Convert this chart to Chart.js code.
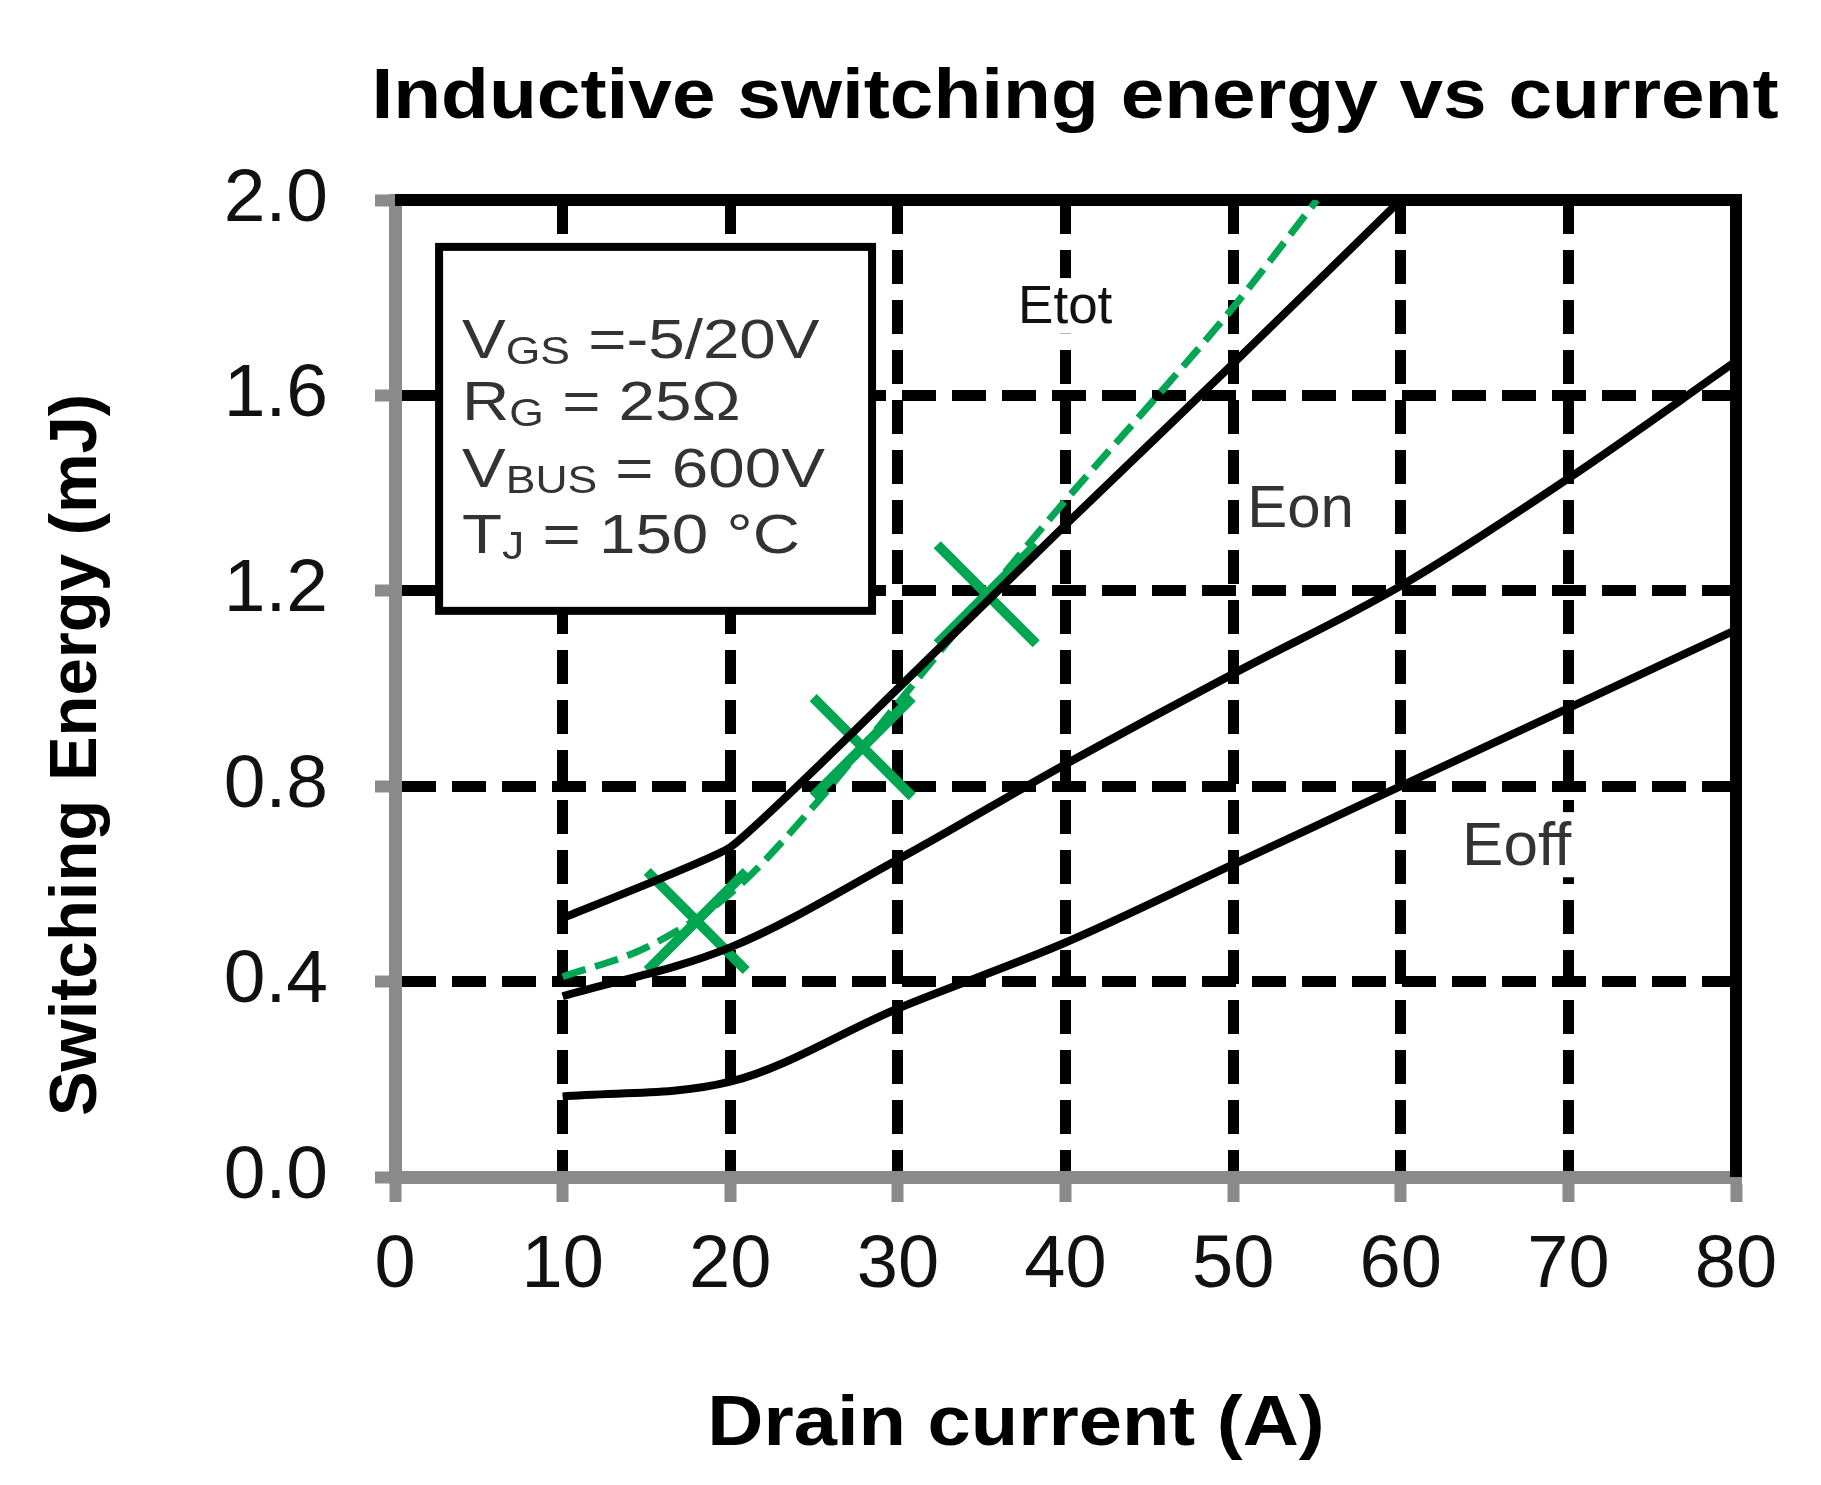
<!DOCTYPE html>
<html>
<head>
<meta charset="utf-8">
<title>Inductive switching energy vs current</title>
<script src="https://cdn.jsdelivr.net/npm/chart.js@4.4.1/dist/chart.umd.min.js"></script>
<style>
  html, body { margin: 0; padding: 0; background: #fff; }
  canvas { display: block; }
</style>
</head>
<body>
<canvas id="energyChart" width="1821" height="1485"></canvas>
<script>
// Values (drain current in A, energy in mJ)
const drainCurrent = [10, 20, 30, 40, 50, 60, 70, 80];
const eon  = [0.37, 0.47, 0.65, 0.845, 1.03, 1.21, 1.43, 1.67];
const eoff = [0.165, 0.195, 0.345, 0.48, 0.64, 0.80, 0.96, 1.12];
const etotCurrent = [10, 20, 30, 40, 50, 60];
const etot = [0.53, 0.675, 1.0, 1.335, 1.665, 2.0];
const fitCurrent = [10, 15, 20, 25, 30, 35, 40, 45, 50, 55];
const fitEnergy  = [0.41, 0.47, 0.58, 0.76, 0.97, 1.18, 1.385, 1.58, 1.78, 2.0];
const markerCurrent = [18.0, 27.9, 35.3];
const markerEnergy  = [0.524, 0.88, 1.193];

const xTicks = [0, 10, 20, 30, 40, 50, 60, 70, 80];
const yTicks = [0.0, 0.4, 0.8, 1.2, 1.6, 2.0];

// test conditions: [main, subscript, rest]
const conditions = [
    ["V", "GS", " =-5/20V"],
    ["R", "G", " = 25\u03A9"],
    ["V", "BUS", " = 600V"],
    ["T", "J", " = 150 \u00B0C"]
];

const FONT = '"Liberation Sans", Arial, sans-serif';
const GREEN = '#00a651';
const AXIS_GREY = '#8a8a8a';

const toPoints = (xs, ys) => xs.map((x, i) => ({ x: x, y: ys[i] }));

// the original text is a bit wider than Arial, so stretch it horizontally
function wideText(ctx, text, x, y, sx, align) {
    ctx.save();
    ctx.translate(x, y);
    ctx.scale(sx, 1);
    ctx.textAlign = align || 'left';
    ctx.fillText(text, 0, 0);
    ctx.restore();
    return ctx.measureText(text).width * sx;
}

// curve label with a white patch behind it (hides the grid line)
function curveLabel(ctx, text, px, py, size, color) {
    ctx.font = `${size}px ${FONT}`;
    const w = ctx.measureText(text).width;
    ctx.fillStyle = '#fff';
    ctx.fillRect(px - 6, py - size * 0.85, w + 12, size * 1.05);
    ctx.fillStyle = color;
    ctx.fillText(text, px, py);
}

const framePlugin = {
    id: 'frame',
    beforeDatasetsDraw(chart) {
        const { ctx, scales: { x, y } } = chart;
        ctx.save();

        // black frame on top and right
        ctx.strokeStyle = '#000';
        ctx.lineWidth = 12;
        ctx.beginPath();
        ctx.moveTo(x.getPixelForValue(0), y.getPixelForValue(2.0));
        ctx.lineTo(x.getPixelForValue(80), y.getPixelForValue(2.0));
        ctx.lineTo(x.getPixelForValue(80), y.getPixelForValue(0));
        ctx.stroke();

        // conditions box
        const bx1 = x.getPixelForValue(2.63), bx2 = x.getPixelForValue(28.46);
        const by1 = y.getPixelForValue(1.904), by2 = y.getPixelForValue(1.159);
        ctx.fillStyle = '#fff';
        ctx.fillRect(bx1, by1, bx2 - bx1, by2 - by1);
        ctx.lineWidth = 8;
        ctx.strokeRect(bx1, by1, bx2 - bx1, by2 - by1);

        ctx.fillStyle = '#333';
        ctx.textBaseline = 'alphabetic';
        const baselines = [1.677, 1.550, 1.412, 1.277];
        conditions.forEach((line, i) => {
            let cx = x.getPixelForValue(4.0);
            const cy = y.getPixelForValue(baselines[i]);
            ctx.font = `56px ${FONT}`;
            cx += wideText(ctx, line[0], cx, cy, 1.17);
            ctx.font = `38px ${FONT}`;
            cx += wideText(ctx, line[1], cx, cy + 6, 1.17);
            ctx.font = `56px ${FONT}`;
            wideText(ctx, line[2], cx, cy, 1.17);
        });

        // curve names
        ctx.textAlign = 'left';
        curveLabel(ctx, 'Etot', x.getPixelForValue(37.17), y.getPixelForValue(1.748), 53, '#111');
        curveLabel(ctx, 'Eon', x.getPixelForValue(50.84), y.getPixelForValue(1.331), 60, '#333');
        curveLabel(ctx, 'Eoff', x.getPixelForValue(63.66), y.getPixelForValue(0.639), 62, '#333');
        ctx.restore();
    },
    afterDraw(chart) {
        const ctx = chart.ctx;
        ctx.save();
        ctx.fillStyle = '#000';
        ctx.textBaseline = 'alphabetic';
        ctx.font = `bold 70px ${FONT}`;
        wideText(ctx, 'Inductive switching energy vs current', 1075, 118, 1.12, 'center');
        wideText(ctx, 'Drain current (A)', 1016, 1445, 1.11, 'center');

        ctx.translate(96, 755);
        ctx.rotate(-Math.PI / 2);
        ctx.font = `bold 67px ${FONT}`;
        ctx.textAlign = 'center';
        ctx.fillText('Switching Energy (mJ)', 0, 0);
        ctx.restore();
    }
};

const curve = (label, points, color, width) => ({
    label: label,
    data: points,
    borderColor: color,
    borderWidth: width,
    pointRadius: 0,
    fill: false,
    cubicInterpolationMode: 'monotone'
});

new Chart(document.getElementById('energyChart'), {
    type: 'line',
    data: {
        datasets: [
            Object.assign(curve('Etot', toPoints(etotCurrent, etot), '#000', 8),
                { cubicInterpolationMode: 'default', tension: 0.12 }),
            curve('Eon', toPoints(drainCurrent, eon), '#000', 8),
            curve('Eoff', toPoints(drainCurrent, eoff), '#000', 8),
            Object.assign(curve('Fit', toPoints(fitCurrent, fitEnergy), GREEN, 7), { borderDash: [24, 10] }),
            {
                label: 'Measured',
                type: 'scatter',
                data: toPoints(markerCurrent, markerEnergy),
                pointStyle: 'crossRot',
                pointRadius: 70,
                pointBorderWidth: 10,
                borderColor: GREEN,
                backgroundColor: GREEN
            }
        ]
    },
    options: {
        responsive: false,
        devicePixelRatio: 1,
        animation: false,
        layout: { padding: { top: 200, right: 85, left: 0, bottom: 0 } },
        plugins: {
            legend: { display: false },
            tooltip: { enabled: false },
            title: { display: false }
        },
        scales: {
            x: {
                type: 'linear',
                min: 0,
                max: 80,
                afterFit: s => { s.height = 308; },
                afterBuildTicks: s => { s.ticks = xTicks.map(v => ({ value: v })); },
                grid: {
                    color: c => (c.tick && c.tick.value === 0) ? 'rgba(0,0,0,0)' : '#000',
                    lineWidth: 11,
                    tickColor: AXIS_GREY,
                    tickLength: 25,
                    tickWidth: 12
                },
                border: { display: true, color: AXIS_GREY, width: 13, dash: [34, 16] },
                ticks: {
                    color: '#111',
                    font: { family: FONT, size: 74 },
                    padding: 20,
                    maxRotation: 0,
                    autoSkip: false
                }
            },
            y: {
                type: 'linear',
                min: 0,
                max: 2,
                afterFit: s => { s.width = 395; },
                afterBuildTicks: s => { s.ticks = yTicks.map(v => ({ value: v })); },
                grid: {
                    color: c => (c.tick && c.tick.value === 0) ? 'rgba(0,0,0,0)' : '#000',
                    lineWidth: 11,
                    tickColor: AXIS_GREY,
                    tickLength: 20,
                    tickWidth: 12
                },
                border: { display: true, color: AXIS_GREY, width: 13, dash: [34, 16] },
                ticks: {
                    color: '#111',
                    font: { family: FONT, size: 75 },
                    padding: 47,
                    autoSkip: false,
                    callback: v => Number(v).toFixed(1)
                }
            }
        }
    },
    plugins: [framePlugin]
});
</script>
</body>
</html>
